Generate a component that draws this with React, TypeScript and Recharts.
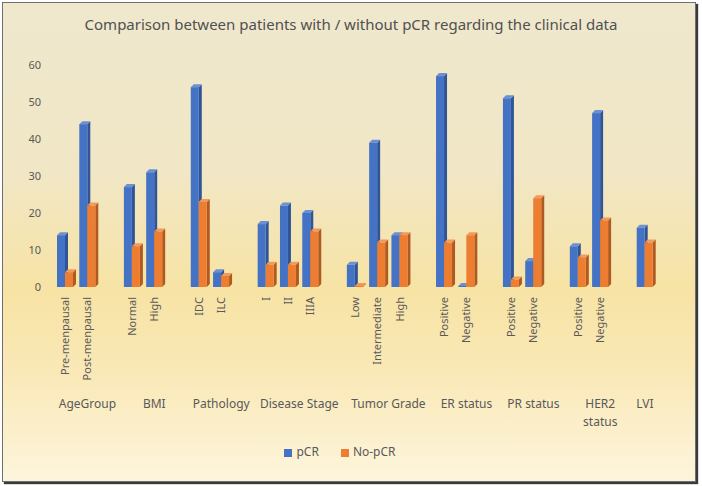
import { BarChart, Bar, XAxis, YAxis, Legend } from "recharts";

const groupLines = [
  ["AgeGroup"],
  ["BMI"],
  ["Pathology"],
  ["Disease Stage"],
  ["Tumor Grade"],
  ["ER status"],
  ["PR status"],
  ["HER2", "status"],
  ["LVI"],
];
const subLabels = [
  ["Pre-menpausal", "Post-menpausal"],
  ["Normal", "High"],
  ["IDC", "ILC"],
  ["I", "II", "IIIA"],
  ["Low", "Intermediate", "High"],
  ["Positive", "Negative"],
  ["Positive", "Negative"],
  ["Positive", "Negative"],
  [""],
];
const pcrValues = [[14, 44], [27, 31], [54, 4], [17, 22, 20], [6, 39, 14], [57, 0.3], [51, 7], [11, 47], [16]];
const noPcrValues = [[4, 22], [11, 15], [23, 3], [6, 6, 15], [0.3, 12, 14], [12, 14], [2, 24], [8, 18], [12]];
const yTicks = [0, 10, 20, 30, 40, 50, 60];
const seriesOrder = ["pCR", "noPCR"];

// one row per bar pair, plus an empty row after each group (Excel-style spacing)
type Row = { key: string; sub: string; lines?: string[]; slots?: number; pCR?: number; noPCR?: number };
const rows: Row[] = [];
groupLines.forEach((lines, g) => {
  const subs = subLabels[g];
  const last = g === groupLines.length - 1;
  subs.forEach((sub, j) => {
    rows.push({
      key: `${g}-${j}`,
      sub,
      lines: j === 0 ? lines : undefined,
      slots: subs.length + (last ? 0 : 1),
      pCR: pcrValues[g][j],
      noPCR: noPcrValues[g][j],
    });
  });
  if (!last) rows.push({ key: `${g}-gap`, sub: "" });
});
const rowByKey = new Map(rows.map((r) => [r.key, r]));

const W = 702;
const H = 486;
const MARGIN = { top: 65, right: 46, bottom: 54, left: 10 };
const Y_W = 44;
const SLOT = (W - MARGIN.left - MARGIN.right - Y_W) / rows.length;
const FONT = "'Noto Sans', sans-serif";
const GREY = "#595959";

function CatTick(props: any) {
  const { x, y, payload } = props;
  const r = rowByKey.get(payload.value);
  if (!r) return null;
  const gx = r.lines ? x + ((r.slots! - 1) / 2) * SLOT : x;
  return (
    <g fontFamily={FONT} fill={GREY}>
      {r.sub && (
        <text x={x} y={y + 2} dy={4} fontSize={11} textAnchor="end" transform={`rotate(-90, ${x}, ${y + 2})`}>
          {r.sub}
        </text>
      )}
      {r.lines && (
        <text x={gx} y={y + 113} fontSize={12} textAnchor="middle">
          {r.lines.map((l, i) => (
            <tspan key={i} x={gx} dy={i === 0 ? 0 : 18}>
              {l}
            </tspan>
          ))}
        </text>
      )}
    </g>
  );
}

function Box3D(props: any) {
  const { x, y, width, height, fill, dark, light } = props;
  if (width == null || height == null || isNaN(y)) return null;
  const d = 3;
  const h = Math.max(height, 0);
  return (
    <g>
      <polygon
        points={`${x + width},${y} ${x + width + d},${y - d} ${x + width + d},${y + h - d} ${x + width},${y + h}`}
        fill={dark}
      />
      <polygon points={`${x},${y} ${x + d},${y - d} ${x + width + d},${y - d} ${x + width},${y}`} fill={light} />
      <rect x={x} y={y} width={width} height={h} fill={fill} />
    </g>
  );
}

export default function App() {
  return (
    <div style={{ position: "absolute", left: 0, top: 0, width: W, height: H }}>
      <div
        style={{
          position: "absolute",
          left: 2,
          top: 2,
          width: 692,
          height: 478,
          border: "1px solid #6f6f6f",
          boxShadow: "2px 2px 1px #3a3a3a",
          background:
            "linear-gradient(to bottom, #efe8cd 0%, #f1e7c6 35%, #f7e3a4 60%, #fae9b8 78%, #fdf5dc 100%)",
        }}
      />
      <div
        style={{
          position: "absolute",
          left: 0,
          top: 14,
          width: W,
          textAlign: "center",
          fontFamily: FONT,
          fontSize: 15,
          fontWeight: 400,
          color: "#505050",
        }}
      >
        Comparison between patients with / without pCR regarding the clinical data
      </div>
      <div style={{ position: "absolute", left: 0, top: 0 }}>
        <BarChart width={W} height={H} data={rows} margin={MARGIN} barSize={8} barGap={0}>
          <YAxis
            width={Y_W}
            domain={[0, 60]}
            ticks={yTicks}
            axisLine={false}
            tickLine={false}
            tickMargin={7}
            tick={{ fill: GREY, fontSize: 11, fontFamily: FONT }}
          />
          <XAxis
            dataKey="key"
            height={145}
            axisLine={false}
            tickLine={false}
            interval={0}
            tick={<CatTick />}
          />
          <Legend
            verticalAlign="middle"
            align="center"
            iconType="square"
            iconSize={8}
            itemSorter={(item: any) => seriesOrder.indexOf(item.dataKey)}
            wrapperStyle={{ top: 443, left: 0, width: W, fontFamily: FONT, fontSize: 12 }}
            formatter={(v: string) => <span style={{ color: GREY, marginRight: 12 }}>{v}</span>}
          />
          <Bar
            dataKey="pCR"
            name="pCR"
            fill="#4472c4"
            isAnimationActive={false}
            shape={(p: any) => <Box3D {...p} dark="#2f5597" light="#6d90d2" />}
          />
          <Bar
            dataKey="noPCR"
            name="No-pCR"
            fill="#ed7d31"
            isAnimationActive={false}
            shape={(p: any) => <Box3D {...p} dark="#ae5a21" light="#f29a5c" />}
          />
        </BarChart>
      </div>
    </div>
  );
}
